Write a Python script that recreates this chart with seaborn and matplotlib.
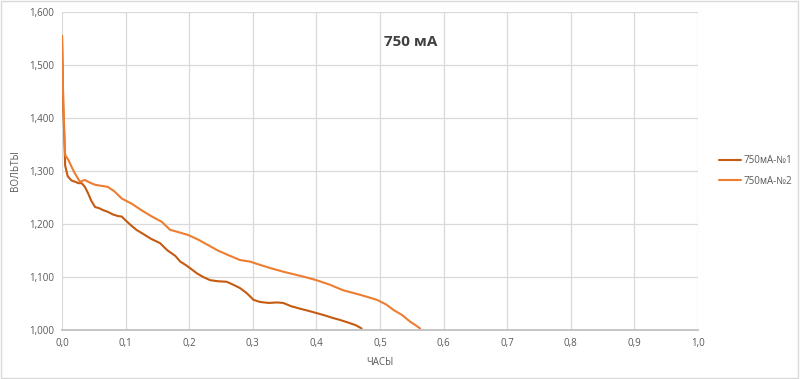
import matplotlib
matplotlib.use("Agg")
import matplotlib.pyplot as plt
import seaborn as sns
import pandas as pd
from matplotlib.ticker import FuncFormatter, MultipleLocator

# data
hours_1 = [0.0, 0.002, 0.005, 0.009, 0.015, 0.020, 0.026, 0.031, 0.036, 0.041, 0.046,
           0.052, 0.058, 0.065, 0.072, 0.080, 0.088, 0.094, 0.099, 0.108, 0.117,
           0.128, 0.140, 0.154, 0.166, 0.178, 0.186, 0.194, 0.201, 0.212, 0.222,
           0.233, 0.245, 0.259, 0.270, 0.280, 0.290, 0.296, 0.301, 0.311, 0.325,
           0.338, 0.348, 0.360, 0.375, 0.388, 0.400, 0.412, 0.425, 0.437, 0.450,
           0.462, 0.471]
volts_1 = [1.555, 1.420, 1.310, 1.290, 1.282, 1.280, 1.277, 1.277, 1.270, 1.258, 1.244,
           1.232, 1.230, 1.226, 1.223, 1.218, 1.215, 1.214, 1.208, 1.198, 1.189,
           1.181, 1.172, 1.164, 1.150, 1.140, 1.129, 1.123, 1.117, 1.107, 1.100,
           1.094, 1.092, 1.091, 1.085, 1.079, 1.070, 1.063, 1.057, 1.053, 1.051,
           1.052, 1.051, 1.045, 1.040, 1.036, 1.032, 1.028, 1.023, 1.019, 1.014,
           1.009, 1.003]

hours_2 = [0.0, 0.002, 0.005, 0.010, 0.015, 0.020, 0.028, 0.036, 0.044, 0.052, 0.062,
           0.072, 0.082, 0.094, 0.110, 0.125, 0.140, 0.157, 0.170, 0.185, 0.199,
           0.215, 0.230, 0.245, 0.262, 0.280, 0.296, 0.311, 0.330, 0.348, 0.365,
           0.382, 0.400, 0.420, 0.442, 0.470, 0.495, 0.510, 0.521, 0.535, 0.547,
           0.556, 0.563]
volts_2 = [1.555, 1.430, 1.330, 1.321, 1.308, 1.296, 1.280, 1.283, 1.278, 1.274, 1.272,
           1.270, 1.262, 1.248, 1.238, 1.226, 1.215, 1.204, 1.189, 1.184, 1.179,
           1.170, 1.160, 1.150, 1.141, 1.132, 1.129, 1.123, 1.116, 1.110, 1.105,
           1.100, 1.094, 1.086, 1.075, 1.066, 1.057, 1.048, 1.038, 1.028, 1.016,
           1.009, 1.003]

series_names = ["750мА-№1", "750мА-№2"]
title_text = "750 мА"
x_label = "ЧАСЫ"
y_label = "ВОЛЬТЫ"

df = pd.concat([
    pd.DataFrame({"hours": hours_1, "volts": volts_1, "series": series_names[0]}),
    pd.DataFrame({"hours": hours_2, "volts": volts_2, "series": series_names[1]}),
], ignore_index=True)

sns.set_theme(style="white")
plt.rcParams["font.family"] = ["Open Sans", "DejaVu Sans"]

fig = plt.figure(figsize=(8.0, 3.79), dpi=100)
ax = fig.add_axes([0.0775, 0.1293, 0.795, 0.8390])

palette = {series_names[0]: "#C55A11", series_names[1]: "#ED7D31"}
sns.lineplot(data=df, x="hours", y="volts", hue="series", palette=palette,
             sort=False, linewidth=1.5, ax=ax, estimator=None)

ax.set_xlim(0, 1.0)
ax.set_ylim(1.0, 1.6)
ax.xaxis.set_major_locator(MultipleLocator(0.1))
ax.yaxis.set_major_locator(MultipleLocator(0.1))
ax.xaxis.set_major_formatter(FuncFormatter(lambda v, p: f"{v:.1f}".replace(".", ",")))
ax.yaxis.set_major_formatter(FuncFormatter(lambda v, p: f"{v:.3f}".replace(".", ",")))
ax.grid(True, color="#D9D9D9", linewidth=0.9)
ax.set_axisbelow(True)
for s in ["top", "right", "left"]:
    ax.spines[s].set_visible(False)
ax.spines["bottom"].set_color("#BFBFBF")
ax.tick_params(axis="both", length=0, labelsize=7, colors="#595959", pad=6)

ax.set_xlabel(x_label, fontsize=7, color="#595959")
ax.set_ylabel(y_label, fontsize=7, color="#595959")
ax.yaxis.set_label_coords(-0.064, 0.5)
ax.xaxis.set_label_coords(0.5, -0.085)

ax.text(0.548, 0.905, title_text, transform=ax.transAxes, ha="center", va="center",
        fontsize=11, fontweight="bold", color="#404040")

leg = ax.legend(loc="center left", bbox_to_anchor=(1.02, 0.5), frameon=False,
                fontsize=7, handlelength=2.2, handletextpad=0.3, labelspacing=1.0)
for t in leg.get_texts():
    t.set_color("#595959")

fig.patches.append(plt.Rectangle((0.001, 0.002), 0.997, 0.995, transform=fig.transFigure,
                                 fill=False, edgecolor="#D9D9D9", linewidth=1))

fig.savefig("out.png", dpi=100)
